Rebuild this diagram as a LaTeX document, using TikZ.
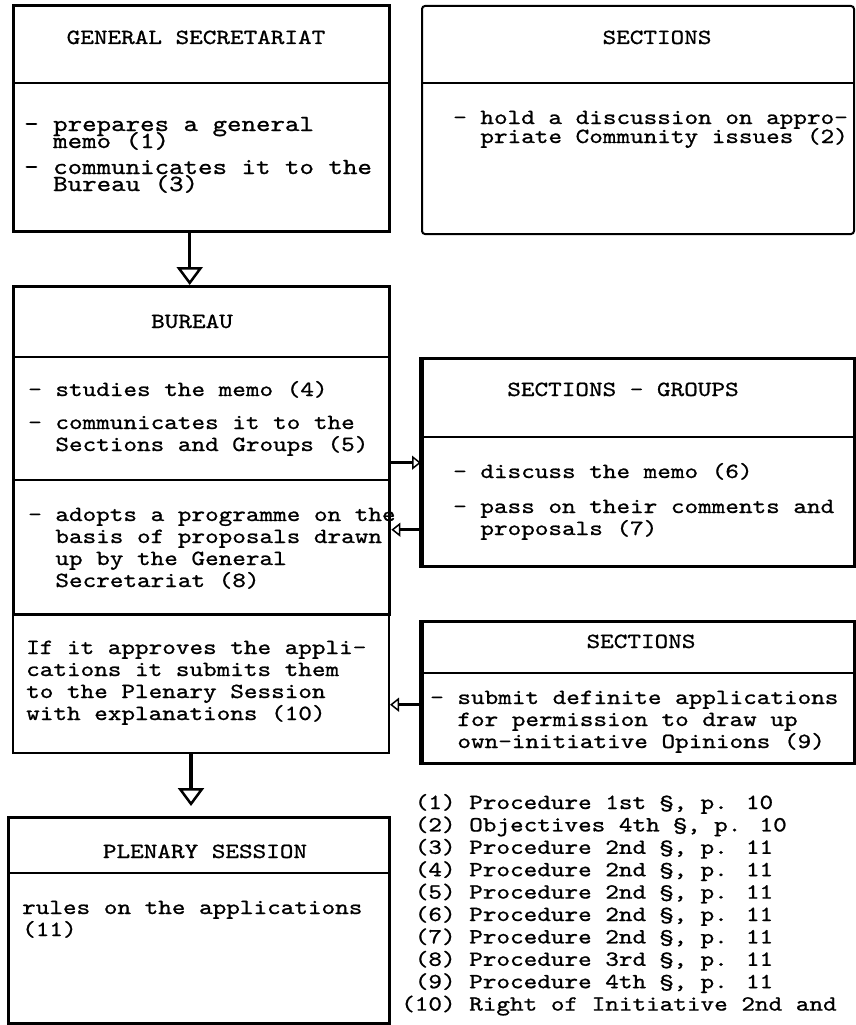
\documentclass[tikz,border=0pt]{standalone}
\usepackage{fontspec}
\usepackage{tikz}
\usetikzlibrary{arrows.meta, positioning, calc}
\newfontfamily\typewriter{lmmono10-regular.otf}[FakeStretch=1.2, FakeBold=0.9]
\newcommand{\typefont}{\typewriter\fontsize{21.6}{22}\selectfont\lineskiplimit=-50pt\relax}
\newcommand{\widetypefont}{\typewriter\fontsize{23}{17}\selectfont\lineskiplimit=-50pt\relax}
\newcommand{\tighttypefont}{\typewriter\fontsize{21.6}{19}\selectfont\lineskiplimit=-50pt\relax}
\newcommand{\notefont}{\typewriter\fontsize{21.6}{22.4}\selectfont\lineskiplimit=-50pt\relax}
\newcommand{\hang}{\phantom{- }}
\tikzset{
    % Box styles with sharp corners
    panel/.style={
        rectangle,
        draw=black,
        fill=white,
        anchor=north west,
        inner sep=0pt
    },
    panel heavy/.style={
        panel,
        line width=3.4pt
    },
    panel light/.style={
        panel,
        line width=2pt
    },
    divider/.style={
        line width=2pt
    },
    heading/.style={
        anchor=base,
        inner sep=0pt,
        font=\typefont
    },
    % multi-line texts sit on the baseline of their last line
    entry/.style={
        anchor=base west,
        inner sep=0pt,
        align=left,
        font=\typefont
    },
    arrow style/.style={
        line width=3.5pt,
        -{Triangle[open, length=18pt, width=26pt, line width=2.5pt]}
    },
    side arrow style/.style={
        line width=2.5pt,
        -{Triangle[open, length=9pt, width=14pt, line width=1.5pt]}
    }
}
\begin{document}
\begin{tikzpicture}[x=1pt, y=-1pt]
    \useasboundingbox (0,0) rectangle (855,1025);

    % General Secretariat
    \node[panel heavy, minimum width=376pt, minimum height=226pt] (gensec) at (12,4) {};
    \draw[divider] ([yshift=-79pt]gensec.north west) -- ([yshift=-79pt]gensec.north east);
    \node[heading] (gensec title) at (196,44) {GENERAL SECRETARIAT};
    \node[entry, font=\widetypefont] (gensec text) at (24,191) {- prepares a general\\
        \hang memo (1)\\[9pt]
        - communicates it to the\\
        \hang Bureau (3)};

    % Sections (discussion)
    \node[panel light, rounded corners=3pt, minimum width=432pt, minimum height=228pt] (sections top) at (421,5) {};
    \draw[divider] ([yshift=-78pt]sections top.north west) -- ([yshift=-78pt]sections top.north east);
    \node[heading] (sections top title) at (657,44) {SECTIONS};
    \node[entry, font=\tighttypefont] (sections top text) at (453,143) {- hold a discussion on appro-\\
        \hang priate Community issues (2)};

    % Bureau
    \node[panel heavy, minimum width=376pt, minimum height=328pt] (bureau) at (12,285) {};
    \draw[divider] ([yshift=-72pt]bureau.north west) -- ([yshift=-72pt]bureau.north east);
    \draw[divider] ([yshift=-195pt]bureau.north west) -- ([yshift=-195pt]bureau.north east);
    \node[heading] (bureau title) at (192,328) {BUREAU};
    \node[entry] (bureau text) at (28,451) {- studies the memo (4)\\[11pt]
        - communicates it to the\\
        \hang Sections and Groups (5)};
    \node[entry] (bureau programme) at (28,587) {- adopts a programme on the\\
        \hang basis of proposals drawn\\
        \hang up by the General\\
        \hang Secretariat (8)};

    % Approval
    \node[panel light, minimum width=376pt, minimum height=138pt] (approve) at (12,614) {};
    \node[entry] (approve text) at (26,720) {If it approves the appli-\\
        cations it submits them\\
        to the Plenary Session\\
        with explanations (10)};

    % Plenary Session
    \node[panel light, line width=2.5pt, minimum width=381pt, minimum height=206pt] (plenary) at (7,816) {};
    \draw[divider] ([yshift=-57pt]plenary.north west) -- ([yshift=-57pt]plenary.north east);
    \node[heading] (plenary title) at (205,858) {PLENARY SESSION};
    \node[entry] (plenary text) at (22,936) {rules on the applications\\
        (11)};

    % Sections - Groups
    \node[panel heavy, minimum width=432pt, minimum height=208pt] (secgroups) at (421,357) {};
    \draw[line width=4.5pt] (secgroups.north west) -- (secgroups.south west);
    \draw[divider] ([yshift=-80pt]secgroups.north west) -- ([yshift=-80pt]secgroups.north east);
    \node[heading] (secgroups title) at (623,396) {SECTIONS - GROUPS};
    \node[entry] (secgroups text) at (453,535) {- discuss the memo (6)\\[13pt]
        - pass on their comments and\\
        \hang proposals (7)};

    % Sections (applications)
    \node[panel heavy, minimum width=432pt, minimum height=142pt] (sections low) at (421,620) {};
    \draw[line width=4.5pt] (sections low.north west) -- (sections low.south west);
    \draw[divider] ([yshift=-53pt]sections low.north west) -- ([yshift=-53pt]sections low.north east);
    \node[heading] (sections low title) at (641,648) {SECTIONS};
    \node[entry] (sections low text) at (430,748) {- submit definite applications\\
        \hang for permission to draw up\\
        \hang own-initiative Opinions (9)};

    % References
    \node[entry, font=\notefont] (notes) at (401,1010.6) {\hphantom{1}(1) Procedure 1st §, p. 10\\
        \hphantom{1}(2) Objectives 4th §, p. 10\\
        \hphantom{1}(3) Procedure 2nd §, p. 11\\
        \hphantom{1}(4) Procedure 2nd §, p. 11\\
        \hphantom{1}(5) Procedure 2nd §, p. 11\\
        \hphantom{1}(6) Procedure 2nd §, p. 11\\
        \hphantom{1}(7) Procedure 2nd §, p. 11\\
        \hphantom{1}(8) Procedure 3rd §, p. 11\\
        \hphantom{1}(9) Procedure 4th §, p. 11\\
        (10) Right of Initiative 2nd and};

    % Flow arrows
    \draw[arrow style] ([xshift=-12pt]gensec.south) -- ([xshift=-12pt]gensec.south |- bureau.north);
    \draw[arrow style, shorten >=10pt] ([xshift=-10pt]approve.south) -- ([xshift=-10pt]approve.south |- plenary.north);
    \draw[side arrow style] (bureau.east |- secgroups.west) -- (secgroups.west);
    \draw[side arrow style] ([yshift=-67pt]secgroups.west) -- ([yshift=-67pt]secgroups.west -| bureau.east);
    \draw[side arrow style] ([yshift=-12pt]sections low.west) -- ([yshift=-12pt]sections low.west -| approve.east);
\end{tikzpicture}
\end{document}
